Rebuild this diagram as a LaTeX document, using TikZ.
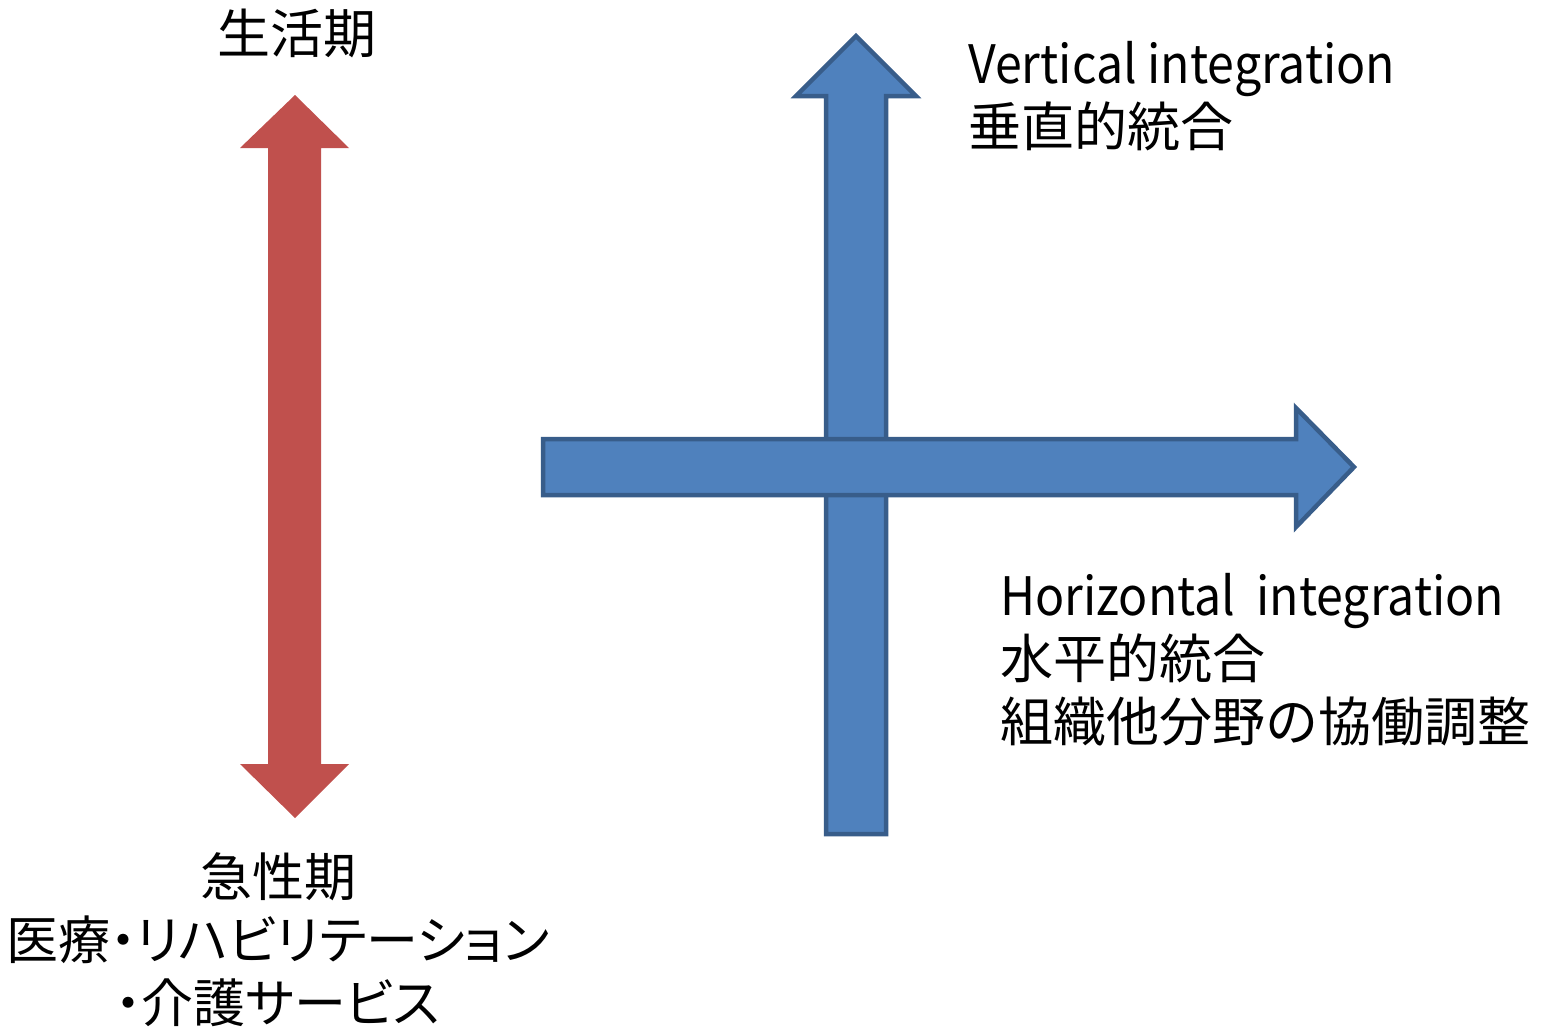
\documentclass[tikz,border=0pt]{standalone}
\usepackage{fontspec}
\setmainfont{Noto Sans CJK JP}
\newfontfamily\latinnarrow[FakeStretch=0.91]{Noto Sans CJK JP}
\newfontfamily\jpprop[RawFeature=+palt]{Noto Sans CJK JP}
\definecolor{bfill}{HTML}{4F81BD}
\definecolor{bline}{HTML}{385D8A}
\definecolor{rfill}{HTML}{C0504D}
\begin{document}
\begin{tikzpicture}[x=1pt,y=-1pt,
  bluearrow/.style={fill=bfill,draw=bline,line width=4.5pt,line join=miter},
  redarrow/.style={fill=rfill},
  lbl/.style={inner sep=0pt,font=\fontsize{53}{63}\selectfont}]
\useasboundingbox (0,0) rectangle (1541,1028);
% red double arrow
\path[redarrow] (295,95) -- (349,148) -- (321,148) -- (321,764) -- (349,764) -- (295,818)
  -- (240,764) -- (268,764) -- (268,148) -- (240,148) -- cycle;
% vertical blue arrow
\path[bluearrow] (856,36) -- (916,96) -- (886,96) -- (886,834) -- (826,834) -- (826,96) -- (796,96) -- cycle;
% horizontal blue arrow
\path[bluearrow] (543,439) -- (1296,439) -- (1296,408) -- (1354,467) -- (1296,527) -- (1296,495) -- (543,495) -- cycle;
% labels
\node[lbl] (top) at (297,33) {生活期};
\node[lbl,align=center,font=\fontsize{52}{63}\selectfont] (bottom) at (278,940) {\jpprop 急性期\\\jpprop 医療・リハビリテーション\\\jpprop ・介護サービス};
\node[lbl,align=left,anchor=west] (vert) at (968,96) {{\latinnarrow Vertical integration}\\垂直的統合};
\node[lbl,align=left,anchor=west] (horiz) at (1000,660) {{\latinnarrow Horizontal\hspace{0.4em}integration}\\水平的統合\\組織他分野の協働調整};
\end{tikzpicture}
\end{document}
